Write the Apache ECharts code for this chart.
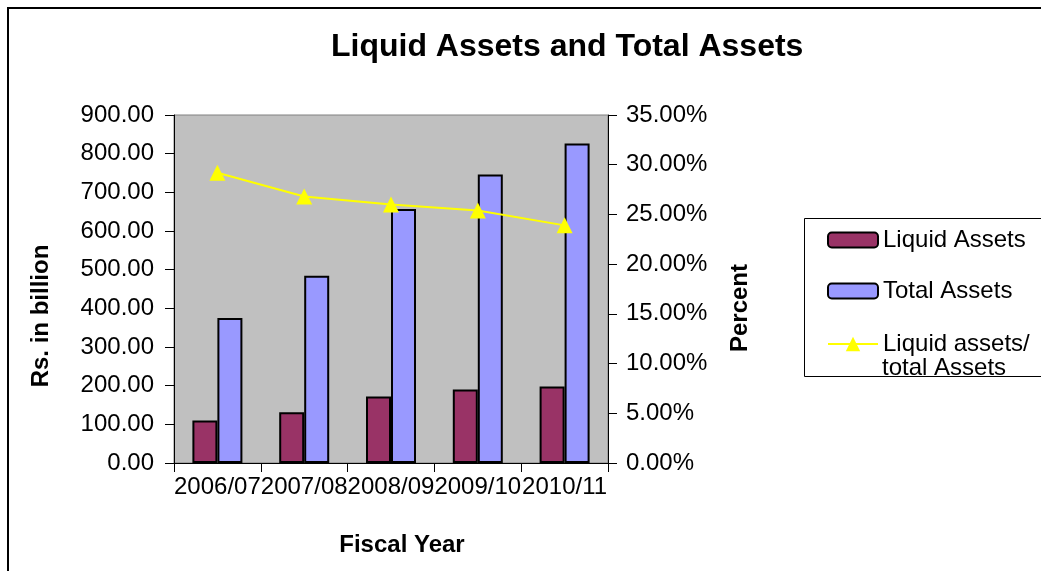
<!DOCTYPE html>
<html>
<head>
<meta charset="utf-8">
<script src="https://cdn.jsdelivr.net/npm/echarts@6/dist/echarts.min.js"></script>
<style>
  html, body { margin: 0; padding: 0; background: #fff; }
  #chart { width: 1041px; height: 571px; }
</style>
</head>
<body>
<div id="chart"></div>
<script>
const categories = ['2006/07', '2007/08', '2008/09', '2009/10', '2010/11']
const liquidAssets = [110, 131, 172, 190, 198]
const totalAssets = [375, 484, 657, 746, 826]
// percent of liquid assets in total assets
const liquidRatio = [29.2, 26.8, 26.0, 25.4, 23.9]

const FONT = 'Liberation Sans, Arial, sans-serif'

const chart = echarts.init(document.getElementById('chart'))

const option = {
  backgroundColor: '#fff',
  textStyle: { fontFamily: FONT },
  title: {
    text: 'Liquid Assets and Total Assets',
    left: 326,
    top: 26,
    textStyle: { fontFamily: FONT, fontSize: 32, fontWeight: 'bold', color: '#000' }
  },
  legend: [
    {
      orient: 'vertical',
      left: 822,
      top: 222,
      itemWidth: 50,
      itemHeight: 15,
      itemGap: 25,
      selectedMode: false,
      data: ['Liquid Assets', 'Total Assets'],
      textStyle: { fontFamily: FONT, fontSize: 24, color: '#000', lineHeight: 26 }
    },
    {
      orient: 'vertical',
      left: 822,
      top: 326,
      itemWidth: 50,
      itemHeight: 18,
      selectedMode: false,
      data: ['Liquid assets/ total Assets'],
      formatter: () => 'Liquid assets/',
      textStyle: { fontFamily: FONT, fontSize: 24, color: '#000', lineHeight: 26 }
    }
  ],
  grid: {
    left: 174,
    right: 433,
    top: 115,
    bottom: 108,
    show: true,
    backgroundColor: '#c0c0c0',
    borderColor: '#808080',
    borderWidth: 1
  },
  xAxis: {
    type: 'category',
    data: categories,
    axisLine: { lineStyle: { color: '#000', width: 1 } },
    axisTick: { show: true, length: 9, lineStyle: { color: '#000' } },
    axisLabel: { fontFamily: FONT, fontSize: 24, color: '#000', margin: 12, interval: 0 }
  },
  yAxis: [
    {
      type: 'value',
      min: 0,
      max: 900,
      interval: 100,
      axisLine: { show: true, lineStyle: { color: '#000' } },
      axisTick: { show: true, length: 9, lineStyle: { color: '#000' } },
      splitLine: { show: false },
      axisLabel: {
        fontFamily: FONT, fontSize: 24, color: '#000', margin: 20,
        formatter: (v) => v.toFixed(2)
      }
    },
    {
      type: 'value',
      min: 0,
      max: 35,
      interval: 5,
      position: 'right',
      axisLine: { show: true, lineStyle: { color: '#000' } },
      axisTick: { show: true, length: 9, lineStyle: { color: '#000' } },
      splitLine: { show: false },
      axisLabel: {
        fontFamily: FONT, fontSize: 24, color: '#000', margin: 18,
        formatter: (v) => v.toFixed(2) + '%'
      }
    }
  ],
  series: [
    {
      name: 'Liquid Assets',
      type: 'bar',
      data: liquidAssets,
      barWidth: 25,
      barGap: '0%',
      itemStyle: { color: '#993366', borderColor: '#000', borderWidth: 2 }
    },
    {
      name: 'Total Assets',
      type: 'bar',
      data: totalAssets,
      barWidth: 25,
      barGap: '0%',
      itemStyle: { color: '#9999ff', borderColor: '#000', borderWidth: 2 }
    },
    {
      name: 'Liquid assets/ total Assets',
      type: 'line',
      yAxisIndex: 1,
      data: liquidRatio,
      symbol: 'triangle',
      symbolSize: 16,
      lineStyle: { color: '#ffff00', width: 2 },
      itemStyle: { color: '#ffff00' }
    }
  ],
  graphic: [
    {
      type: 'rect',
      shape: { x: 8, y: 8, width: 1100, height: 600 },
      style: { fill: 'none', stroke: '#000', lineWidth: 2 },
      silent: true
    },
    {
      type: 'rect',
      shape: { x: 804.5, y: 218.5, width: 300, height: 158 },
      style: { fill: 'none', stroke: '#000', lineWidth: 1 },
      silent: true
    },
    {
      type: 'text',
      x: 882,
      y: 368,
      style: {
        text: 'total Assets', fontFamily: FONT, fontSize: 24,
        fill: '#000', align: 'left', verticalAlign: 'middle'
      }
    },
    {
      type: 'text',
      x: 41,
      y: 316,
      rotation: Math.PI / 2,
      style: {
        text: 'Rs. in billion', fontFamily: FONT, fontSize: 24, fontWeight: 'bold',
        fill: '#000', align: 'center', verticalAlign: 'middle'
      }
    },
    {
      type: 'text',
      x: 740,
      y: 308,
      rotation: Math.PI / 2,
      style: {
        text: 'Percent', fontFamily: FONT, fontSize: 24, fontWeight: 'bold',
        fill: '#000', align: 'center', verticalAlign: 'middle'
      }
    },
    {
      type: 'text',
      x: 402,
      y: 545,
      style: {
        text: 'Fiscal Year', fontFamily: FONT, fontSize: 24, fontWeight: 'bold',
        fill: '#000', align: 'center', verticalAlign: 'middle'
      }
    }
  ]
}

chart.setOption(option)
</script>
</body>
</html>
